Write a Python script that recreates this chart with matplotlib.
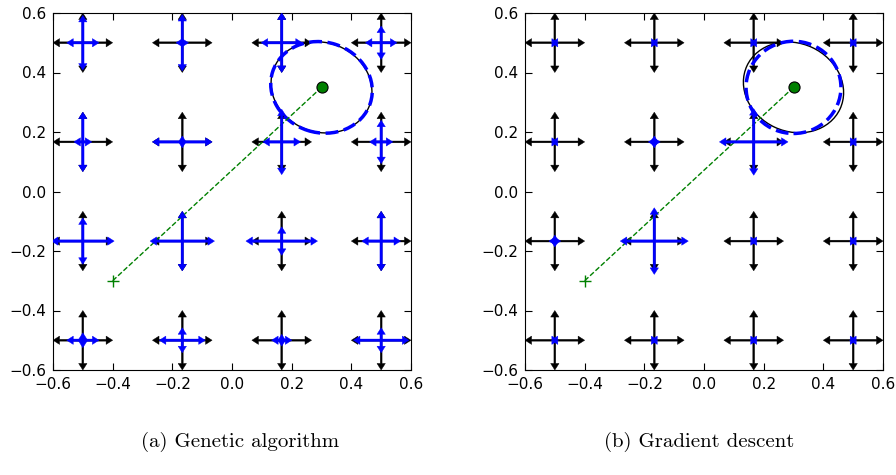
import numpy as np
import matplotlib.pyplot as plt
from matplotlib.patches import Ellipse

# grid of sample points (same for x and y)
grid = [-0.5, -1/6, 1/6, 0.5]
black_len = 0.1

# blue arrow half-lengths, rows from top (y=0.5) to bottom (y=-0.5), cols left to right
ga_hx = [[0.054, 0.021, 0.069, 0.053],
         [0.030, 0.100, 0.063, 0.039],
         [0.105, 0.108, 0.120, 0.065],
         [0.054, 0.077, 0.034, 0.093]]
ga_hy = [[0.092, 0.095, 0.100, 0.056],
         [0.100, 0.020, 0.110, 0.073],
         [0.078, 0.100, 0.048, 0.100],
         [0.025, 0.042, 0.020, 0.042]]

gd_hx = [[0.012, 0.012, 0.012, 0.012],
         [0.012, 0.020, 0.115, 0.012],
         [0.020, 0.114, 0.012, 0.012],
         [0.012, 0.012, 0.012, 0.012]]
gd_hy = [[0.0, 0.0, 0.0, 0.0],
         [0.0, 0.020, 0.112, 0.0],
         [0.020, 0.112, 0.0, 0.0],
         [0.0, 0.0, 0.0, 0.0]]

start = (-0.4, -0.3)
target = (0.3, 0.35)

# ellipses: (width, height, angle)
ga_black = (0.344, 0.300, -22)
ga_blue = (0.344, 0.304, -18)
gd_black = (0.344, 0.296, -25)
gd_blue = (0.318, 0.310, 0)

captions = ["(a) Genetic algorithm", "(b) Gradient descent"]
ticks = [-0.6, -0.4, -0.2, 0.0, 0.2, 0.4, 0.6]


def cross(ax, x, y, hx, hy, color, width, z):
	for dx, dy in [(hx, 0), (-hx, 0), (0, hy), (0, -hy)]:
		if dx == 0 and dy == 0:
			continue
		ax.arrow(x, y, dx, dy, width=width, head_width=0.028, head_length=0.022,
		         length_includes_head=True, fc=color, ec=color, lw=0.3, zorder=z)


def panel(ax, hx, hy, black_ell, blue_ell):
	ys = grid[::-1]
	for i, y in enumerate(ys):
		for j, x in enumerate(grid):
			cross(ax, x, y, black_len, black_len, 'k', 0.006, 2)
			cross(ax, x, y, hx[i][j], hy[i][j], 'b', 0.008, 5)
	ax.add_patch(Ellipse(target, *black_ell[:2], angle=black_ell[2], fill=False,
	                     ec='k', lw=1, zorder=3))
	ax.add_patch(Ellipse(target, *blue_ell[:2], angle=blue_ell[2], fill=False,
	                     ec='b', lw=2.5, ls='--', zorder=4))
	ax.plot([start[0], target[0]], [start[1], target[1]], '--', color='g', lw=1, zorder=4)
	ax.plot(*start, '+', color='g', ms=8, mew=1, zorder=6)
	ax.plot(*target, 'o', mfc='g', mec='k', ms=8, mew=0.8, zorder=7)
	ax.set_xlim(-0.6, 0.6)
	ax.set_ylim(-0.6, 0.6)
	ax.set_xticks(ticks)
	ax.set_yticks(ticks)
	ax.tick_params(direction='in', top=True, right=True, length=5, labelsize=11, pad=5)


fig = plt.figure(figsize=(8.96, 4.75), dpi=100)
ax1 = fig.add_axes([53/896, 105/475, 358/896, 357/475])
ax2 = fig.add_axes([525/896, 105/475, 358/896, 357/475])
panel(ax1, ga_hx, ga_hy, ga_black, ga_blue)
panel(ax2, gd_hx, gd_hy, gd_black, gd_blue)

fig.text(240/896, 0.07, captions[0], ha='center', va='center', fontsize=15, family='cmr10')
fig.text(699/896, 0.07, captions[1], ha='center', va='center', fontsize=15, family='cmr10')

plt.savefig("out.png", dpi=100)
plt.close()
